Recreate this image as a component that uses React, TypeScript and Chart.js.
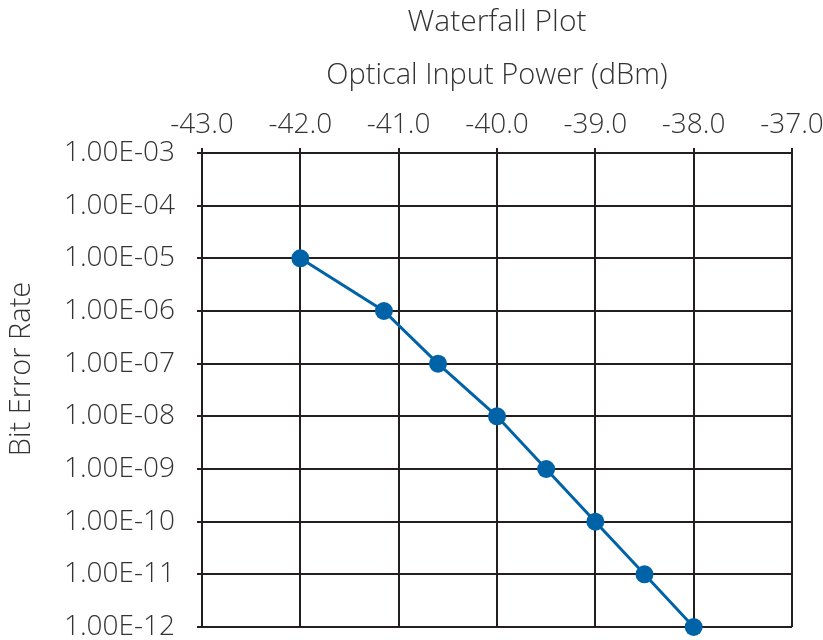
import React, { useEffect, useRef } from "react";
import { Chart, registerables } from "chart.js";

Chart.register(...registerables);

const powerDbm = [-42.0, -41.15, -40.6, -40.0, -39.5, -39.0, -38.5, -38.0];
const bitErrorRate = [1e-5, 1e-6, 1e-7, 1e-8, 1e-9, 1e-10, 1e-11, 1e-12];
const yTickValues = [1e-3, 1e-4, 1e-5, 1e-6, 1e-7, 1e-8, 1e-9, 1e-10, 1e-11, 1e-12];
const yTickLabels = [
  "1.00E-03", "1.00E-04", "1.00E-05", "1.00E-06", "1.00E-07",
  "1.00E-08", "1.00E-09", "1.00E-10", "1.00E-11", "1.00E-12",
];
const xMin = -43.0;
const xMax = -37.0;
const chartTitle = "Waterfall Plot";
const xTitle = "Optical Input Power (dBm)";
const yTitle = "Bit Error Rate";

const FONT = "'Open Sans', 'Noto Sans', sans-serif";
const TEXT = "#333333";
const GRID = "#231f20";
const BLUE = "#0063a8";

// Draws the y-axis title, placed slightly above the plot's vertical centre as in the reference.
const yTitlePlugin = {
  id: "yTitlePlugin",
  afterDraw(chart: any) {
    const { ctx, chartArea } = chart;
    const cy = (chartArea.top + chartArea.bottom) / 2 - 21;
    ctx.save();
    ctx.translate(22, cy);
    ctx.rotate(-Math.PI / 2);
    ctx.font = `300 29px ${FONT}`;
    ctx.fillStyle = TEXT;
    ctx.textAlign = "center";
    ctx.textBaseline = "middle";
    ctx.fillText(yTitle, 0, 0);
    ctx.restore();
  },
};

export default function App() {
  const ref = useRef<HTMLCanvasElement | null>(null);

  useEffect(() => {
    if (!ref.current) return;
    const chart = new Chart(ref.current, {
      type: "line",
      data: {
        datasets: [
          {
            label: "BER",
            data: powerDbm.map((x, i) => ({ x, y: bitErrorRate[i] })),
            borderColor: BLUE,
            backgroundColor: BLUE,
            borderWidth: 3,
            pointRadius: 9,
            pointHoverRadius: 9,
            pointBorderWidth: 0,
            tension: 0,
            clip: false as any,
          },
        ],
      },
      plugins: [yTitlePlugin],
      options: {
        responsive: false,
        animation: false,
        layout: { padding: 0 },
        plugins: {
          legend: { display: false },
          tooltip: { enabled: false },
          title: {
            display: true,
            text: chartTitle,
            fullSize: false,
            color: TEXT,
            font: { family: FONT, size: 30, weight: "300", lineHeight: 1.2 },
            padding: { top: 4, bottom: 0 },
          },
        },
        scales: {
          x: {
            type: "linear",
            position: "top",
            min: xMin,
            max: xMax,
            ticks: {
              stepSize: 1,
              color: TEXT,
              padding: 6,
              font: { family: FONT, size: 28, weight: "300", lineHeight: 1.2 },
              callback: (v: any) => Number(v).toFixed(1),
            },
            grid: { color: GRID, lineWidth: 2, tickLength: 5, drawTicks: true },
            border: { display: true, color: GRID, width: 2 },
            title: {
              display: true,
              text: xTitle,
              color: TEXT,
              font: { family: FONT, size: 29, weight: "300", lineHeight: 1.2 },
              padding: { top: 18, bottom: 0 },
            },
            afterFit: (scale: any) => {
              scale.height = 153 - 40;
              scale.paddingLeft = 0;
              scale.paddingRight = 31;
            },
          },
          y: {
            type: "logarithmic",
            position: "left",
            min: 1e-12,
            max: 1e-3,
            afterBuildTicks: (scale: any) => {
              scale.ticks = yTickValues.map((value) => ({ value }));
            },
            ticks: {
              color: TEXT,
              padding: 22,
              autoSkip: false,
              font: { family: FONT, size: 28, weight: "300", lineHeight: 1.0 },
              callback: (v: any) => {
                const idx = yTickValues.findIndex((t) => Math.abs(Math.log10(t) - Math.log10(Number(v))) < 1e-6);
                return idx >= 0 ? yTickLabels[idx] : "";
              },
            },
            grid: { color: GRID, lineWidth: 2, tickLength: 5, drawTicks: true },
            border: { display: true, color: GRID, width: 2 },
            title: { display: false },
            afterFit: (scale: any) => {
              scale.width = 202;
              scale.paddingTop = 0;
              scale.paddingBottom = 13;
            },
          },
        },
      },
    });
    return () => chart.destroy();
  }, []);

  return (
    <div style={{ position: "absolute", left: 0, top: 0, width: 823, height: 640, background: "#fff" }}>
      <canvas ref={ref} width={823} height={640} style={{ display: "block" }} />
    </div>
  );
}
